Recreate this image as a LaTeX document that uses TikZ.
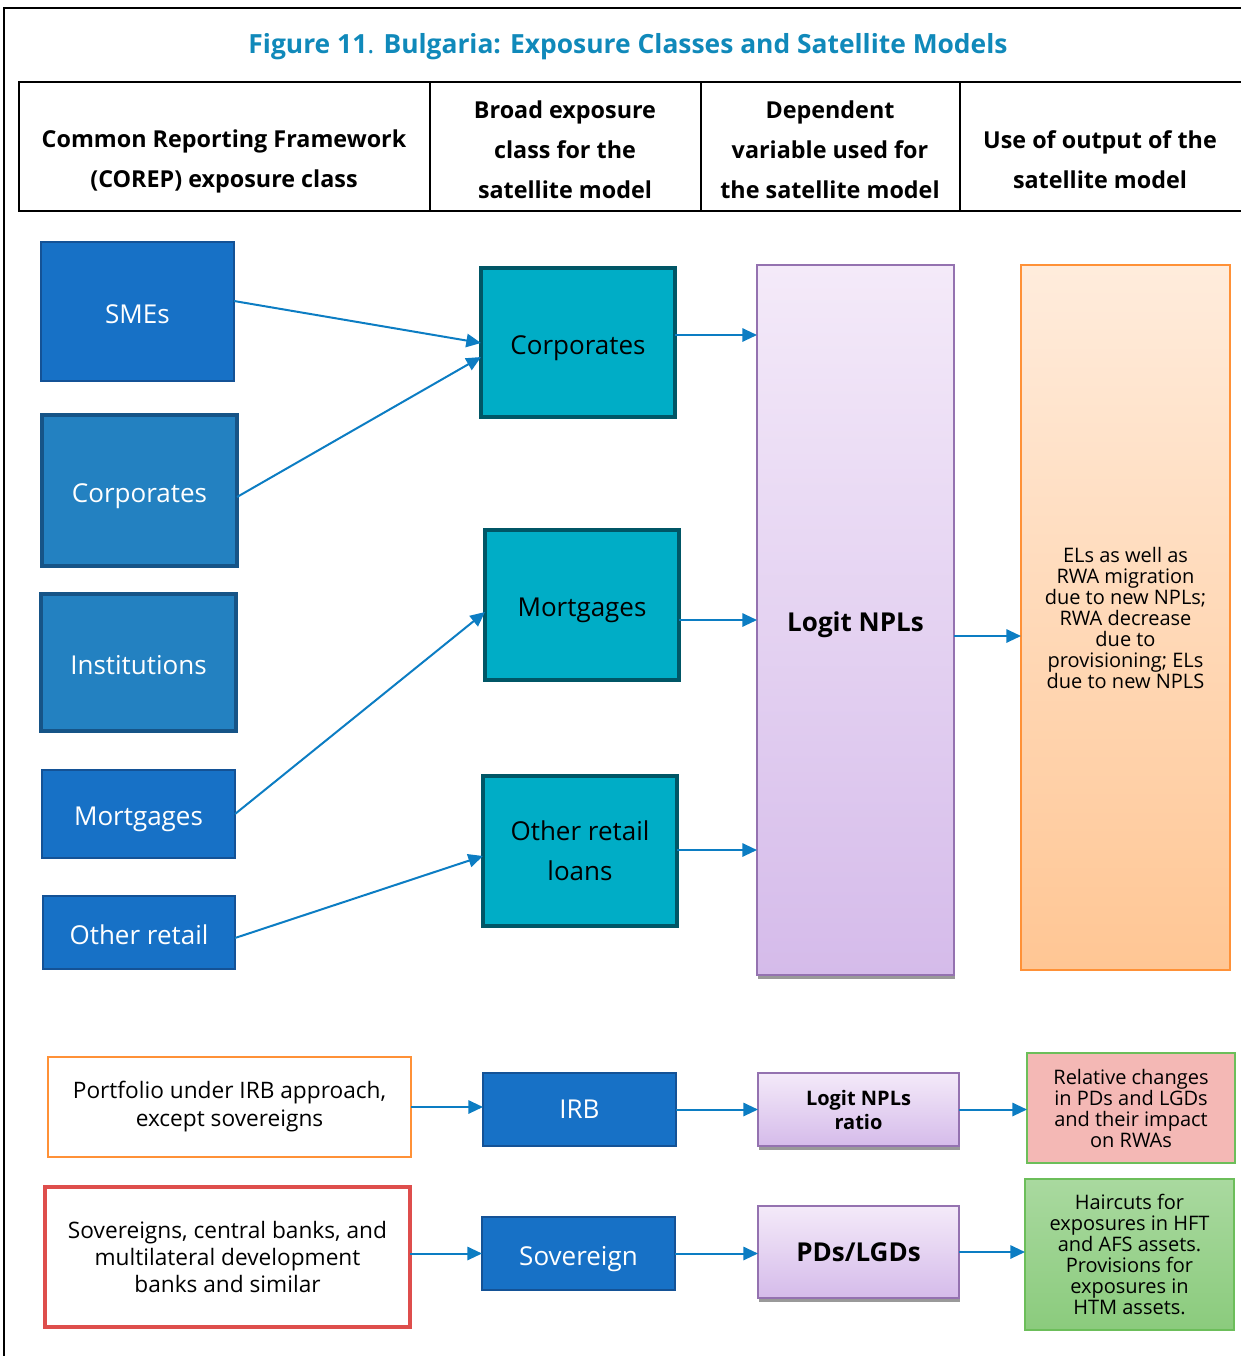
\documentclass[tikz,border=0pt]{standalone}
\usepackage{fontspec}
\setmainfont{Open Sans}
\usetikzlibrary{arrows.meta,calc,shadows}

\definecolor{titleblue}{RGB}{16,137,186}
\definecolor{smeblue}{RGB}{23,113,198}
\definecolor{smeline}{RGB}{20,82,150}
\definecolor{corpblue}{RGB}{35,129,193}
\definecolor{corpline}{RGB}{22,84,135}
\definecolor{tealfill}{RGB}{0,173,198}
\definecolor{tealline}{RGB}{0,86,102}
\definecolor{lilactop}{RGB}{244,234,249}
\definecolor{lilacbot}{RGB}{213,187,234}
\definecolor{lilacline}{RGB}{148,114,176}
\definecolor{peachtop}{RGB}{255,236,220}
\definecolor{peachbot}{RGB}{255,198,148}
\definecolor{orangeline}{RGB}{255,145,55}
\definecolor{pinkfill}{RGB}{244,184,181}
\definecolor{greenline}{RGB}{108,190,90}
\definecolor{greentop}{RGB}{169,217,159}
\definecolor{greenbot}{RGB}{139,203,125}
\definecolor{redline}{RGB}{222,78,76}
\definecolor{arrowblue}{RGB}{12,125,195}

\tikzset{every picture/.style={line width=0.75pt}}

\begin{document}
\begin{tikzpicture}[x=0.75pt,y=0.75pt,yscale=-1,
  wh/.style 2 args={minimum width={#1*0.75pt},minimum height={#2*0.75pt}},
  box/.style={rectangle,inner sep=0pt,outer sep=0pt,align=center},
  oneline/.style={text height=22pt,text depth=4.7pt},
  hdr/.style={align=center,font=\fontsize{17.5}{30}\selectfont\bfseries},
  classbox/.style={box,fill=smeblue,draw=smeline,line width=1.5pt,text=white,font=\fontsize{19.5}{30}\selectfont},
  corpbox/.style={box,fill=corpblue,draw=corpline,line width=3pt,text=white,font=\fontsize{19.5}{30}\selectfont},
  broadbox/.style={box,fill=tealfill,draw=tealline,line width=3.5pt,font=\fontsize{19.5}{30}\selectfont},
  logitbox/.style={box,top color=lilactop,bottom color=lilacbot,draw=lilacline,line width=1.5pt,
    drop shadow={shadow xshift=0.5pt,shadow yshift=-3pt,fill=black!40,opacity=1}},
  smalltext/.style={font=\fontsize{15}{15.75}\selectfont},
  flow/.style={draw=arrowblue,line width=1.5pt,-{Triangle[length=11pt,width=10pt]}}]
  \useasboundingbox (0,0) rectangle (1241,1356);

  %Frame
  \draw[line width=1.5pt] (4,1356) -- (4,8) -- (1241,8);

  % Text Node
  \node[text=titleblue,font=\fontsize{19.8}{24}\selectfont] (title) at (628,47)
    {\textbf{Figure 11}. \textbf{Bulgaria: Exposure Classes and Satellite Models}};

  %Header table
  \draw[line width=1.5pt] (1241,82) -- (19,82) -- (19,211) -- (1241,211);
  \draw[line width=1.5pt] (430,82) -- (430,211) (701,82) -- (701,211) (960,82) -- (960,211);
  \node[hdr] (hcorep) at (224,161) {Common Reporting Framework\\(COREP) exposure class};
  \node[hdr] (hbroad) at (565,150) {Broad exposure\\class for the\\satellite model};
  \node[hdr] (hdep) at (830,150) {Dependent\\variable used for\\the satellite model};
  \node[hdr] (huse) at (1100,160) {Use of output of the\\satellite model};

  %COREP classes
  \node[classbox,oneline,wh={193}{139}] (sme) at (137.5,311.5) {SMEs};
  \node[corpbox,oneline,wh={195}{151}] (corp) at (139.5,490.5) {Corporates};
  \node[corpbox,oneline,wh={195}{137}] (inst) at (138.5,662.5) {Institutions};
  \node[classbox,oneline,wh={193}{88}] (mort) at (138.5,814) {Mortgages};
  \node[classbox,oneline,wh={192}{73}] (oret) at (139,932.5) {Other retail};

  %Broad classes
  \node[broadbox,oneline,wh={194}{149}] (bcorp) at (578,342.5) {Corporates};
  \node[broadbox,oneline,wh={194}{150}] (bmort) at (582,605) {Mortgages};
  \node[broadbox,wh={194}{150}] (bret) at (580,851) {Other retail\\loans};

  %Dependent variable and use
  \node[logitbox,oneline,wh={197}{710},font=\fontsize{19.5}{24}\selectfont\bfseries] (logit) at (855.5,620) {Logit NPLs};
  \node[box,wh={209}{705},top color=peachtop,bottom color=peachbot,draw=orangeline,line width=1.5pt,smalltext] (els) at (1125.5,617.5)
    {ELs as well as\\RWA migration\\due to new NPLs;\\RWA decrease\\due to\\provisioning; ELs\\due to new NPLS};

  %IRB row
  \node[box,wh={363}{100},draw=orangeline,line width=1.5pt,font=\fontsize{17}{21}\selectfont] (port) at (229.5,1107)
    {Portfolio under IRB approach,\\except sovereigns};
  \node[classbox,wh={193}{73}] (irb) at (579.5,1109.5) {IRB};
  \node[logitbox,wh={201}{73},font=\fontsize{15}{18}\selectfont\bfseries] (lratio) at (858.5,1109.5) {Logit NPLs\\ratio};
  \node[box,wh={208}{110},fill=pinkfill,draw=greenline,line width=1.5pt,smalltext] (rel) at (1131,1108)
    {Relative changes\\in PDs and LGDs\\and their impact\\on RWAs};

  %Sovereign row
  \node[box,wh={365}{140},draw=redline,line width=3.5pt,font=\fontsize{17}{20.25}\selectfont] (sov) at (227.5,1257)
    {Sovereigns, central banks, and\\multilateral development\\banks and similar};
  \node[classbox,oneline,wh={193}{73}] (sovb) at (578.5,1253.5) {Sovereign};
  \node[logitbox,wh={201}{92},font=\fontsize{19.5}{24}\selectfont\bfseries] (pds) at (858.5,1252) {PDs/LGDs};
  \node[box,wh={209}{151},top color=greentop,bottom color=greenbot,draw=greenline,line width=1.5pt,smalltext] (hair) at (1129.5,1254.5)
    {Haircuts for\\exposures in HFT\\and AFS assets.\\Provisions for\\exposures in\\HTM assets.};

  %Arrows
  \draw[flow] ($(sme.east)+(0,-10.5)$) -- ($(bcorp.west)+(0,0.5)$);
  \draw[flow] ($(corp.east)+(0,6.5)$) -- ($(bcorp.west)+(0,14.5)$);
  \draw[flow] (mort.east) -- ($(bmort.west)+(0,7)$);
  \draw[flow] ($(oret.east)+(0,5.5)$) -- ($(bret.west)+(0,5)$);
  \coordinate (a1) at ($(bcorp.east)+(0,-7.5)$);
  \coordinate (a2) at ($(bmort.east)+(0,15)$);
  \coordinate (a3) at ($(bret.east)+(0,-1)$);
  \coordinate (a4) at ($(logit.east)+(0,16)$);
  \draw[flow] (a1) -- (a1 -| logit.west);
  \draw[flow] (a2) -- (a2 -| logit.west);
  \draw[flow] (a3) -- (a3 -| logit.west);
  \draw[flow] (a4) -- (a4 -| els.west);
  \draw[flow] (port.east) -- (port.east -| irb.west);
  \draw[flow] (irb.east) -- (irb.east -| lratio.west);
  \draw[flow] (lratio.east) -- (lratio.east -| rel.west);
  \draw[flow] (sovb.west -| sov.east) -- (sovb.west);
  \draw[flow] (sovb.east) -- (sovb.east -| pds.west);
  \draw[flow] (pds.east) -- (pds.east -| hair.west);
\end{tikzpicture}
\end{document}
